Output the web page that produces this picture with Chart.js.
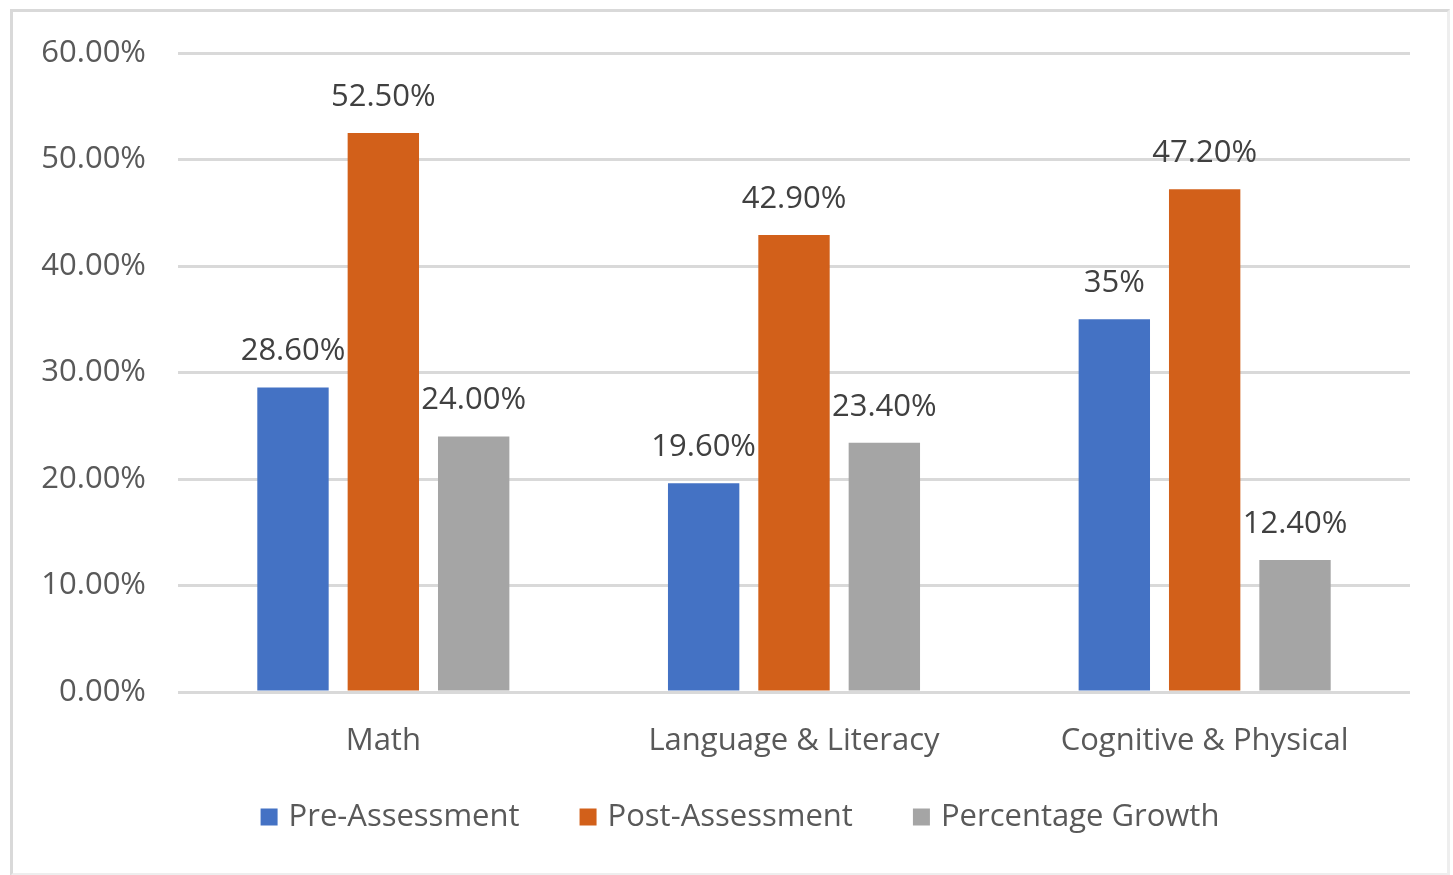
<!DOCTYPE html>
<html>
<head>
<meta charset="utf-8">
<script src="https://cdn.jsdelivr.net/npm/chart.js@4"></script>
<style>
  body { margin: 0; background: #fff; }
  #frame { position: absolute; left: 10px; top: 9px; width: 1434px; height: 861px; border: 3px solid #d9d9d9; border-right-color: #eee; border-bottom-color: #eee; }
  #bars { position: absolute; left: 0; top: 0; }
</style>
</head>
<body>
<div id="frame"></div>
<canvas id="bars" width="1453" height="875"></canvas>
<script>
const categories = ['Math', 'Language & Literacy', 'Cognitive & Physical'];
const preAssessment = [28.6, 19.6, 35];
const postAssessment = [52.5, 42.9, 47.2];
const percentageGrowth = [24.0, 23.4, 12.4];
const preLabels = ['28.60%', '19.60%', '35%'];
const postLabels = ['52.50%', '42.90%', '47.20%'];
const growthLabels = ['24.00%', '23.40%', '12.40%'];
const yTicks = [0, 10, 20, 30, 40, 50, 60];

const font = "'Open Sans', sans-serif";

// value text above each bar + the legend row under the axis
const barValues = {
    id: 'barValues',
    afterDatasetsDraw(chart) {
        const ctx = chart.ctx;
        ctx.save();
        ctx.font = '31px ' + font;
        ctx.textBaseline = 'middle';

        ctx.fillStyle = '#404040';
        ctx.textAlign = 'center';
        chart.data.datasets.forEach((ds, i) => {
            chart.getDatasetMeta(i).data.forEach((bar, j) => {
                ctx.fillText(ds.valueText[j], bar.x, bar.y - 36);
            });
        });

        // legend
        const box = 17, gap = 11, spacing = 60, y = 817;
        const items = chart.data.datasets.map(ds => ({
            text: ds.label, color: ds.backgroundColor, w: box + gap + ctx.measureText(ds.label).width
        }));
        const total = items.reduce((s, it) => s + it.w, 0) + spacing * (items.length - 1);
        let x = 740 - total / 2;
        ctx.textAlign = 'left';
        items.forEach(it => {
            ctx.fillStyle = it.color;
            ctx.fillRect(x, y - box / 2, box, box);
            ctx.fillStyle = '#595959';
            ctx.fillText(it.text, x + box + gap, y);
            x += it.w + spacing;
        });
        ctx.restore();
    }
};

new Chart(document.getElementById('bars'), {
    type: 'bar',
    data: {
        labels: categories,
        datasets: [
            { label: 'Pre-Assessment', data: preAssessment, valueText: preLabels, backgroundColor: '#4472C4' },
            { label: 'Post-Assessment', data: postAssessment, valueText: postLabels, backgroundColor: '#D2601A' },
            { label: 'Percentage Growth', data: percentageGrowth, valueText: growthLabels, backgroundColor: '#A5A5A5' }
        ]
    },
    options: {
        responsive: false,
        animation: false,
        categoryPercentage: 0.66,
        barPercentage: 0.79,
        layout: { padding: { left: 0, right: 43, top: 53, bottom: 0 } },
        scales: {
            x: {
                grid: { display: false },
                border: { display: false },
                ticks: { color: '#595959', font: { family: font, size: 31 }, padding: 23 },
                afterFit: (scale) => { scale.height = 183; }
            },
            y: {
                min: 0,
                max: 60,
                afterBuildTicks: (scale) => { scale.ticks = yTicks.map(v => ({ value: v })); },
                grid: { color: '#d9d9d9', lineWidth: 3, drawTicks: false },
                border: { display: false },
                ticks: {
                    color: '#595959',
                    font: { family: font, size: 31 },
                    padding: 32,
                    callback: (v) => v.toFixed(2) + '%'
                },
                afterFit: (scale) => { scale.width = 178; }
            }
        },
        plugins: {
            legend: { display: false },
            tooltip: { enabled: false }
        }
    },
    plugins: [barValues]
});
</script>
</body>
</html>
